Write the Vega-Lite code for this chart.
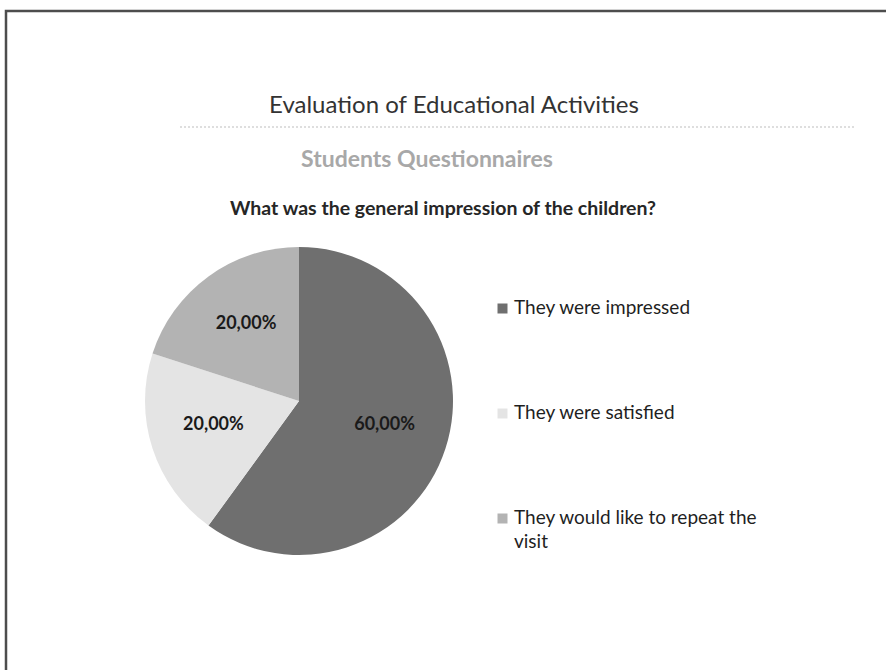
{
  "$schema": "https://vega.github.io/schema/vega-lite/v6.json",
  "width": 882,
  "height": 661,
  "autosize": "none",
  "padding": {"left": 6, "top": 11, "right": -2, "bottom": -2},
  "background": "white",
  "config": {
    "view": {"stroke": null},
    "font": "Lato",
    "locale": {"number": {"decimal": ",", "thousands": ".", "grouping": [3], "currency": ["", " €"]}}
  },
  "title": {
    "text": "Evaluation of Educational Activities",
    "anchor": "middle",
    "frame": "group",
    "orient": "top",
    "offset": -108,
    "dx": 7,
    "font": "Lato",
    "fontSize": 24,
    "fontWeight": "normal",
    "color": "#333333"
  },
  "datasets": {
    "answers": [
      {"cat": "They were impressed", "share": 0.6},
      {"cat": "They were satisfied", "share": 0.2},
      {"cat": "They would like to repeat the visit", "share": 0.2}
    ],
    "heading": [
      {"t": "Students Questionnaires"}
    ],
    "question": [
      {"q": "What was the general impression of the children?"}
    ],
    "frame": [{"f": 1}]
  },
  "layer": [
    {
      "data": {"name": "frame"},
      "mark": {"type": "rect", "fill": null, "fillOpacity": 0, "stroke": "#4d4d4d", "strokeWidth": 2.5},
      "encoding": {}
    },
    {
      "data": {"name": "frame"},
      "mark": {"type": "rule", "color": "#bdbdbd", "strokeWidth": 1, "strokeDash": [2, 2]},
      "encoding": {
        "x": {"value": 174},
        "x2": {"value": 849},
        "y": {"value": 116}
      }
    },
    {
      "data": {"name": "heading"},
      "mark": {"type": "text", "x": 421, "y": 149, "font": "Lato", "fontSize": 23, "fontWeight": "bold", "color": "#a8a8a8", "align": "center", "baseline": "middle"},
      "encoding": {"text": {"field": "t"}}
    },
    {
      "data": {"name": "question"},
      "mark": {"type": "text", "x": 437, "y": 198, "font": "Lato", "fontSize": 19.5, "fontWeight": "bold", "color": "#262626", "align": "center", "baseline": "middle"},
      "encoding": {"text": {"field": "q"}}
    },
    {
      "data": {"name": "answers"},
      "mark": {"type": "arc", "outerRadius": 154, "x": 293, "y": 390},
      "encoding": {
        "theta": {"field": "share", "type": "quantitative", "stack": true},
        "order": {"field": "cat", "sort": "ascending"},
        "color": {
          "field": "cat",
          "type": "nominal",
          "scale": {
            "domain": ["They were impressed", "They were satisfied", "They would like to repeat the visit"],
            "range": ["#6f6f6f", "#e4e4e4", "#b3b3b3"]
          },
          "legend": {
            "orient": "none",
            "legendX": 487,
            "legendY": 288,
            "title": null,
            "symbolType": "square",
            "symbolSize": 100,
            "symbolStrokeWidth": 0,
            "labelFont": "Lato",
            "labelFontSize": 19,
            "labelColor": "#1f1f1f",
            "labelLimit": 400,
            "labelOffset": 2,
            "rowPadding": 85,
            "labelExpr": "datum.label === 'They would like to repeat the visit' ? ['They would like to repeat the', 'visit'] : datum.label",
            "encode": {
              "labels": {
                "update": {
                  "lineHeight": {"value": 24},
                  "baseline": {"value": "top"},
                  "dy": {"value": -10}
                }
              }
            }
          }
        }
      }
    },
    {
      "data": {"name": "answers"},
      "mark": {"type": "text", "radius": 90, "x": 293, "y": 386, "font": "Lato", "fontSize": 18, "fontWeight": "bold", "color": "#1a1a1a"},
      "encoding": {
        "theta": {"field": "share", "type": "quantitative", "stack": true},
        "order": {"field": "cat", "sort": "ascending"},
        "text": {"field": "share", "type": "quantitative", "format": ".2%"}
      }
    }
  ]
}
